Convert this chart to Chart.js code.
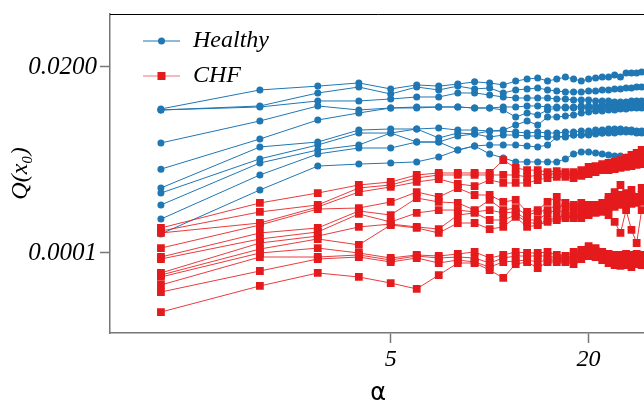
<!DOCTYPE html>
<html lang="en">
<head>
<meta charset="UTF-8">
<title>Q(x0) against alpha</title>
<script src="https://cdn.jsdelivr.net/npm/chart.js"></script>
<style>
  html, body { margin: 0; padding: 0; overflow: hidden; background: #fff; }
  #wrap { width: 652px; height: 401px; position: relative; }
</style>
</head>
<body>
<div id="wrap"><canvas id="myChart"></canvas></div>
<script>
// alpha values (x axis, log scale)
const alphas = [1, 2, 3, 4, 5, 6, 7, 8, 9, 10, 11, 12, 13, 14, 15, 16, 17, 18, 19, 20,
                21, 22, 23, 24, 25, 26, 27, 28, 29];

// Healthy subjects, Q(x0)
const healthy1 = [0.00605, 0.0104, 0.0116, 0.0127, 0.0107, 0.0120, 0.0116, 0.0123, 0.0131, 0.0127, 0.0120, 0.0134, 0.0142, 0.0146, 0.0134, 0.0142, 0.0150, 0.0142, 0.0134, 0.0142, 0.0146, 0.0150, 0.0150, 0.0159, 0.0150, 0.0169, 0.0169, 0.0169, 0.0174];
const healthy2 = [0.00588, 0.00659, 0.00954, 0.0113, 0.00927, 0.0113, 0.0104, 0.0116, 0.0107, 0.0110, 0.00954, 0.0104, 0.0107, 0.0110, 0.0104, 0.0101, 0.00981, 0.00981, 0.00981, 0.0101, 0.0101, 0.0104, 0.0104, 0.0107, 0.0107, 0.0110, 0.0110, 0.0113, 0.0113];
const healthy3 = [0.00588, 0.00640, 0.00760, 0.00760, 0.00804, 0.00851, 0.00851, 0.00954, 0.00954, 0.00901, 0.00851, 0.00827, 0.00827, 0.00827, 0.00827, 0.00804, 0.00804, 0.00781, 0.00781, 0.00781, 0.00760, 0.00760, 0.00760, 0.00738, 0.00738, 0.00738, 0.00760, 0.00760, 0.00760];
const healthy4 = [0.00230, 0.00430, 0.00659, 0.00588, 0.00622, 0.00622, 0.00640, 0.00640, 0.00622, 0.00622, 0.00640, 0.00640, 0.00659, 0.00659, 0.00640, 0.00640, 0.00640, 0.00640, 0.00659, 0.00659, 0.00659, 0.00678, 0.00678, 0.00678, 0.00678, 0.00697, 0.00697, 0.00717, 0.00717];
const healthy5 = [0.00109, 0.00257, 0.00442, 0.00540, 0.00622, 0.00640, 0.00640, 0.00640, 0.00622, 0.00622, 0.00588, 0.00481, 0.00540, 0.00510, 0.00588, 0.00622, 0.00622, 0.00622, 0.00622, 0.00622, 0.00622, 0.00622, 0.00640, 0.00640, 0.00640, 0.00659, 0.00659, 0.00659, 0.00678];
const healthy6 = [0.000637, 0.00205, 0.00236, 0.00332, 0.00342, 0.00342, 0.00352, 0.00332, 0.00332, 0.00323, 0.00332, 0.00383, 0.00430, 0.00383, 0.00481, 0.00481, 0.00495, 0.00510, 0.00540, 0.00555, 0.00571, 0.00571, 0.00588, 0.00588, 0.00605, 0.00605, 0.00622, 0.00622, 0.00622];
const healthy7 = [0.000552, 0.00146, 0.00217, 0.00305, 0.00305, 0.00342, 0.00265, 0.00305, 0.00297, 0.00323, 0.00323, 0.00314, 0.00305, 0.00314, 0.00305, 0.00305, 0.00314, 0.00314, 0.00323, 0.00323, 0.00332, 0.00332, 0.00342, 0.00342, 0.00342, 0.00332, 0.00332, 0.00323, 0.00323];
const healthy8 = [0.000393, 0.00130, 0.00188, 0.00217, 0.00305, 0.00236, 0.00236, 0.00280, 0.00297, 0.00272, 0.00288, 0.00288, 0.00280, 0.00280, 0.00272, 0.00272, 0.00280, 0.00288, 0.00288, 0.00297, 0.00297, 0.00305, 0.00305, 0.00305, 0.00314, 0.00314, 0.00314, 0.00305, 0.00305];
const healthy9 = [0.000263, 0.000923, 0.00168, 0.00199, 0.00199, 0.00236, 0.00236, 0.00188, 0.00211, 0.00217, 0.00217, 0.00217, 0.00211, 0.00205, 0.00217, 0.00272, 0.00272, 0.00288, 0.00288, 0.00288, 0.00305, 0.00305, 0.00314, 0.00314, 0.00332, 0.00332, 0.00323, 0.00314, 0.00314];
const healthy10 = [0.000172, 0.000602, 0.00119, 0.00126, 0.00130, 0.00134, 0.00154, 0.00188, 0.00211, 0.00168, 0.00150, 0.00134, 0.00134, 0.00134, 0.00134, 0.00134, 0.00146, 0.00168, 0.00178, 0.00178, 0.00173, 0.00168, 0.00163, 0.00159, 0.00159, 0.00154, 0.00154, 0.00154, 0.00159];

// CHF patients, Q(x0)
const chf1 = [0.000204, 0.000416, 0.000552, 0.000694, 0.000756, 0.000923, 0.000977, 0.000977, 0.000977, 0.000977, 0.00141, 0.00113, 0.00106, 0.00106, 0.00100, 0.00103, 0.00100, 0.00100, 0.00106, 0.00116, 0.00119, 0.00126, 0.00130, 0.00134, 0.00141, 0.00150, 0.00163, 0.00173, 0.00188];
const chf2 = [0.000187, 0.000322, 0.000393, 0.000637, 0.000694, 0.000847, 0.000923, 0.000923, 0.000923, 0.000923, 0.000923, 0.000923, 0.000872, 0.000923, 0.000949, 0.000949, 0.000949, 0.000923, 0.000923, 0.00100, 0.00106, 0.00113, 0.00116, 0.00119, 0.00123, 0.00126, 0.00134, 0.00141, 0.00150];
const chf3 = [0.000177, 0.000235, 0.000371, 0.000568, 0.000656, 0.000756, 0.000823, 0.000714, 0.000674, 0.000800, 0.000735, 0.000735, 0.000735, 0.000800, 0.000847, 0.000872, 0.000872, 0.000847, 0.000897, 0.000949, 0.00100, 0.00106, 0.00106, 0.00109, 0.00113, 0.00116, 0.00119, 0.00123, 0.00126];
const chf4 = [0.000115, 0.000222, 0.000350, 0.000360, 0.000428, 0.000568, 0.000493, 0.000637, 0.000522, 0.000522, 0.000428, 0.000453, 0.000322, 0.000340, 0.000428, 0.000493, 0.000416, 0.000393, 0.000416, 0.000393, 0.000393, 0.000416, 0.000493, 0.000568, 0.000694, 0.000552, 0.000602, 0.000493, 0.000637];
const chf5 = [0.0000892, 0.000177, 0.000204, 0.000331, 0.000295, 0.000479, 0.000428, 0.000416, 0.000340, 0.000453, 0.000340, 0.000360, 0.000295, 0.000322, 0.000340, 0.000393, 0.000371, 0.000371, 0.000381, 0.000393, 0.000371, 0.000393, 0.000453, 0.000479, 0.000522, 0.000453, 0.000507, 0.000479, 0.000522];
const chf6 = [0.0000843, 0.000149, 0.000182, 0.000304, 0.000242, 0.000313, 0.000340, 0.000340, 0.000322, 0.000340, 0.000313, 0.000322, 0.000256, 0.000256, 0.000313, 0.000340, 0.000313, 0.000322, 0.000340, 0.000340, 0.000340, 0.000360, 0.000393, 0.000416, 0.000453, 0.000416, 0.000453, 0.000453, 0.000479];
const chf7 = [0.0000566, 0.000133, 0.000162, 0.000210, 0.000228, 0.000210, 0.000198, 0.000295, 0.000313, 0.000256, 0.000256, 0.000295, 0.000242, 0.000228, 0.000256, 0.000271, 0.000295, 0.000271, 0.000295, 0.000313, 0.000322, 0.000340, 0.000360, 0.000371, 0.000393, 0.000393, 0.000404, 0.000416, 0.000428];
const chf8 = [0.0000534, 0.000112, 0.000149, 0.000126, 0.000222, 0.000204, 0.000177, 0.000235, 0.000235, 0.000198, 0.000210, 0.000279, 0.000210, 0.000222, 0.000242, 0.000256, 0.000271, 0.000279, 0.000271, 0.000295, 0.000313, 0.000322, 0.000295, 0.000242, 0.000177, 0.000340, 0.000193, 0.000133, 0.000340];
const chf9 = [0.0000505, 0.000100, 0.000115, 0.000100, 0.0000867, 0.0000945, 0.0000918, 0.0000972, 0.000103, 0.0000867, 0.0000945, 0.000103, 0.000100, 0.000100, 0.000103, 0.0000945, 0.0000918, 0.000103, 0.000109, 0.000122, 0.000115, 0.000103, 0.0000972, 0.0000945, 0.0000945, 0.0000972, 0.0000945, 0.0000972, 0.0000945];
const chf10 = [0.0000402, 0.0000892, 0.0000892, 0.0000945, 0.0000819, 0.0000918, 0.0000867, 0.0000892, 0.0000867, 0.0000752, 0.0000867, 0.0000918, 0.0000918, 0.0000918, 0.0000918, 0.0000867, 0.0000867, 0.0000918, 0.000100, 0.000112, 0.000106, 0.0000945, 0.0000892, 0.0000892, 0.0000867, 0.0000892, 0.0000867, 0.0000892, 0.0000867];
const chf11 = [0.0000329, 0.0000599, 0.0000843, 0.0000892, 0.0000774, 0.0000867, 0.0000752, 0.0000819, 0.0000774, 0.0000671, 0.0000774, 0.0000796, 0.0000819, 0.0000774, 0.0000819, 0.0000819, 0.0000819, 0.0000819, 0.0000918, 0.000103, 0.0000972, 0.0000892, 0.0000819, 0.0000796, 0.0000774, 0.0000774, 0.0000774, 0.0000819, 0.0000796];
const chf12 = [0.0000186, 0.0000391, 0.0000566, 0.0000505, 0.0000425, 0.0000359, 0.0000534, 0.0000752, 0.0000752, 0.0000616, 0.0000491, 0.0000731, 0.0000774, 0.0000652, 0.0000774, 0.0000774, 0.0000774, 0.0000731, 0.0000843, 0.0000918, 0.0000892, 0.0000819, 0.0000752, 0.0000710, 0.0000691, 0.0000710, 0.0000671, 0.0000731, 0.0000710];

const healthySeries = [healthy1, healthy2, healthy3, healthy4, healthy5, healthy6, healthy7, healthy8, healthy9, healthy10];
const chfSeries = [chf1, chf2, chf3, chf4, chf5, chf6, chf7, chf8, chf9, chf10, chf11, chf12];

// axis ticks
const xTickValues = [5, 20];
const xTickLabels = ['5', '20'];
const yTickValues = [0.0001, 0.02];
const yTickLabels = ['0.0001', '0.0200'];

const BLUE = '#1f77b4';
const RED = '#e41a1c';
const serif = { family: 'Liberation Serif', style: 'italic', size: 24 };

function toPoints(vals) {
    return vals.map((v, i) => ({ x: alphas[i], y: v }));
}

// small line+marker sample for the legend
function legendSample(color, lineColor, shape) {
    const c = document.createElement('canvas');
    c.width = 62; c.height = 12;
    const g = c.getContext('2d');
    g.strokeStyle = lineColor; g.lineWidth = 1.2;
    g.beginPath(); g.moveTo(23, 6); g.lineTo(60, 6); g.stroke();
    g.fillStyle = color;
    if (shape === 'circle') {
        g.beginPath(); g.arc(41.5, 6, 3.5, 0, Math.PI * 2); g.fill();
    } else {
        g.fillRect(37.5, 2, 8, 8);
    }
    return c;
}

// CHF first so the red marks end up drawn above the blue ones
const datasets = [];
chfSeries.forEach((s, i) => datasets.push({
    label: 'CHF ' + (i + 1),
    data: toPoints(s),
    borderColor: 'rgba(228, 26, 28, 0.85)',
    borderWidth: 1,
    pointStyle: 'rect',
    pointRadius: 5.5,
    pointBackgroundColor: RED,
    pointBorderWidth: 0,
    tension: 0
}));
healthySeries.forEach((s, i) => datasets.push({
    label: 'Healthy ' + (i + 1),
    data: toPoints(s),
    borderColor: BLUE,
    borderWidth: 1,
    pointStyle: 'circle',
    pointRadius: 3.5,
    pointBackgroundColor: BLUE,
    pointBorderWidth: 0,
    tension: 0
}));

const topFrame = {
    id: 'topFrame',
    afterDraw(chart) {
        const { ctx, chartArea } = chart;
        ctx.save();
        ctx.strokeStyle = '#000';
        ctx.lineWidth = 1;
        ctx.beginPath();
        ctx.moveTo(chartArea.left, chartArea.top + 0.5);
        ctx.lineTo(chartArea.right, chartArea.top + 0.5);
        ctx.stroke();
        ctx.restore();
    }
};

const ctx = document.getElementById('myChart').getContext('2d');
new Chart(ctx, {
    type: 'line',
    data: { datasets: datasets },
    options: {
        responsive: true,
        maintainAspectRatio: false,
        animation: false,
        layout: { padding: { top: 14, right: 3.5, bottom: 0, left: 0 } },
        plugins: {
            tooltip: { enabled: false },
            legend: {
                position: 'chartArea',
                align: 'start',
                title: { display: true, text: '', padding: { top: 14, bottom: 0 }, font: { size: 4, lineHeight: 1 } },
                labels: {
                    usePointStyle: true,
                    pointStyleWidth: 60,
                    padding: 11,
                    color: '#000',
                    font: serif,
                    generateLabels: () => [
                        { text: 'Healthy', fontColor: '#000', pointStyle: legendSample(BLUE, BLUE, 'circle'), fillStyle: BLUE, strokeStyle: BLUE, lineWidth: 0, hidden: false },
                        { text: 'CHF', fontColor: '#000', pointStyle: legendSample(RED, 'rgba(228, 26, 28, 0.6)', 'rect'), fillStyle: RED, strokeStyle: RED, lineWidth: 0, hidden: false }
                    ]
                }
            }
        },
        scales: {
            x: {
                type: 'logarithmic',
                min: 0.70,
                max: 30,
                bounds: 'data',
                grid: { drawOnChartArea: false, drawTicks: true, tickLength: 10, tickColor: '#777', tickWidth: 1.5 },
                border: { color: '#777', width: 1.5 },
                ticks: {
                    autoSkip: false, maxRotation: 0, padding: 2,
                    color: '#000', font: serif,
                    callback: (v, i) => xTickLabels[i]
                },
                afterBuildTicks: s => { s.ticks = xTickValues.map(v => ({ value: v })); },
                afterFit: s => { s.height = 68; s.paddingLeft = 0; s.paddingRight = 0; },
                title: { display: true, text: 'α', color: '#000', font: { family: 'DejaVu Sans', size: 24, lineHeight: 1 }, padding: { top: 0, bottom: -5 } }
            },
            y: {
                type: 'logarithmic',
                min: 1.024e-5,
                max: 0.0905,
                bounds: 'data',
                grid: { drawOnChartArea: false, drawTicks: true, tickLength: 10, tickColor: '#777', tickWidth: 1.5 },
                border: { color: '#777', width: 1.5 },
                ticks: {
                    autoSkip: false, padding: 3,
                    color: '#000', font: { family: 'Liberation Serif', style: 'italic', size: 25 },
                    callback: (v, i) => yTickLabels[i]
                },
                afterBuildTicks: s => { s.ticks = yTickValues.map(v => ({ value: v })); },
                afterFit: s => { s.width = 110; s.paddingTop = 0; s.paddingBottom = 0; },
                title: { display: true, text: 'Q(x₀)', color: '#000', font: serif, padding: { top: 6, bottom: 0 } }
            }
        }
    },
    plugins: [topFrame]
});
</script>
</body>
</html>
